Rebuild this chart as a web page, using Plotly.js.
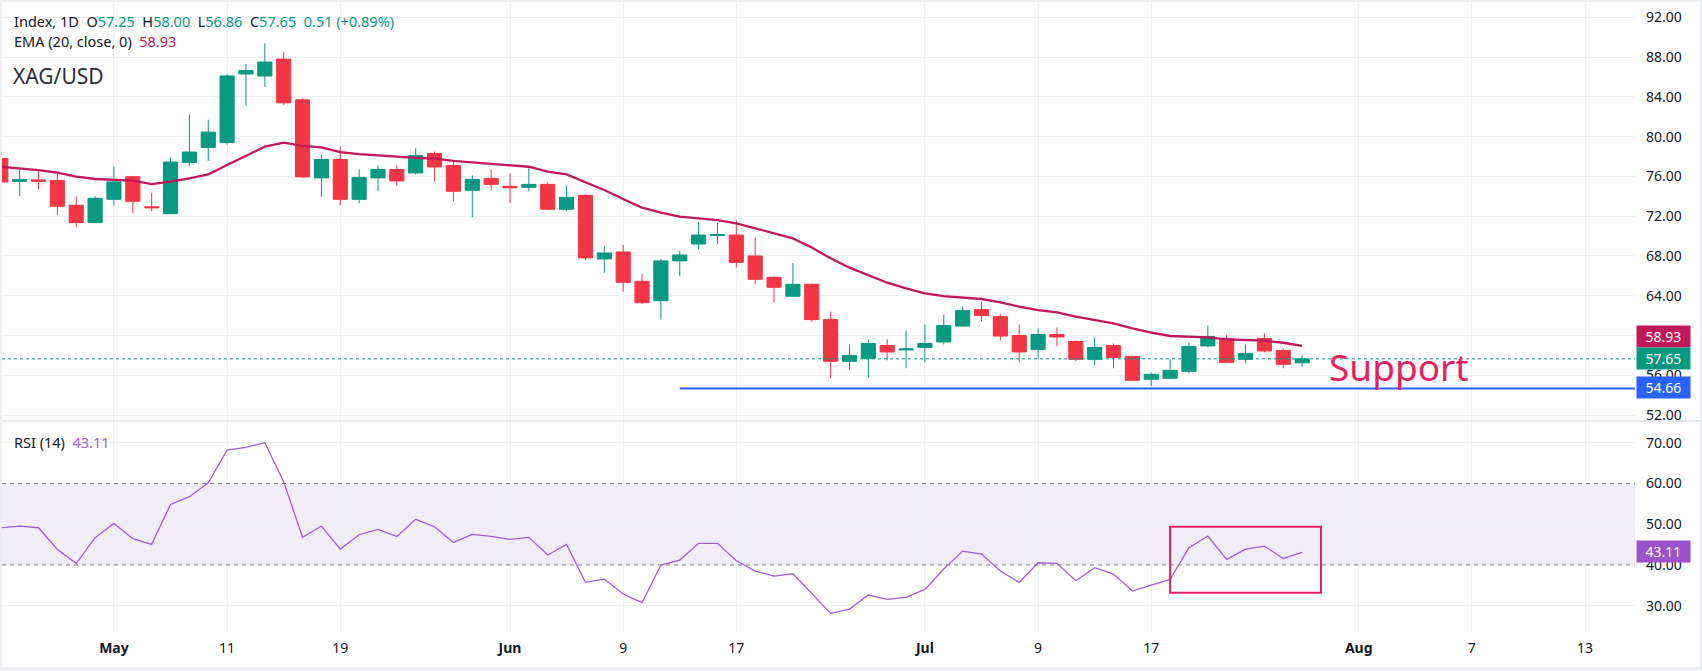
<!DOCTYPE html>
<html><head><meta charset="utf-8">
<script src="https://cdn.plot.ly/plotly-3.0.1.min.js"></script>
<style>
html,body{margin:0;padding:0;background:#eceef2;width:1702px;height:671px;overflow:hidden;}
#chart{position:absolute;left:2px;top:2px;width:1698px;height:665px;background:#fff;}
</style></head><body><div id="chart"></div>
<script>
// ---- data ----
const dates = [
 '2026-04-23','2026-04-24','2026-04-27','2026-04-28','2026-04-29','2026-04-30',
 '2026-05-01','2026-05-04','2026-05-05','2026-05-06','2026-05-07','2026-05-08','2026-05-11','2026-05-12','2026-05-13','2026-05-14','2026-05-15','2026-05-18','2026-05-19','2026-05-20','2026-05-21','2026-05-22','2026-05-25','2026-05-26','2026-05-27','2026-05-28','2026-05-29',
 '2026-06-01','2026-06-02','2026-06-03','2026-06-04','2026-06-05','2026-06-08','2026-06-09','2026-06-10','2026-06-11','2026-06-12','2026-06-15','2026-06-16','2026-06-17','2026-06-18','2026-06-19','2026-06-22','2026-06-23','2026-06-24','2026-06-25','2026-06-26','2026-06-29','2026-06-30',
 '2026-07-01','2026-07-02','2026-07-03','2026-07-06','2026-07-07','2026-07-08','2026-07-09','2026-07-10','2026-07-13','2026-07-14','2026-07-15','2026-07-16','2026-07-17','2026-07-20','2026-07-21','2026-07-22','2026-07-23','2026-07-24','2026-07-27','2026-07-28','2026-07-29'
];
const openP = [77.8,75.5,75.65,75.6,73.1,71.35,73.7,75.97,72.95,72.25,77.4,78.9,79.4,86.3,86.1,87.8,83.7,75.85,77.7,73.7,75.85,76.7,76.35,78.3,77.1,74.6,75.8,75.0,74.9,75.2,72.7,74.1,67.7,68.4,65.45,63.5,67.5,69.2,70.05,70.1,68.0,65.85,63.95,65.15,61.6,57.4,57.7,59.0,58.55,58.8,59.35,60.95,62.6,61.9,60.0,58.6,60.1,59.4,57.6,59.0,57.9,55.6,55.7,56.4,58.95,59.7,57.6,59.7,58.5,57.25];
const highP = [78.2,76.8,76.6,76.3,74.0,74.0,77.0,76.05,74.35,77.9,82.2,81.7,86.3,87.3,89.4,88.5,83.85,78.2,79.0,76.7,77.1,77.1,78.85,78.5,77.6,76.1,76.7,76.3,77.0,75.4,75.1,74.2,69.0,69.1,66.2,67.7,68.5,71.4,71.3,71.6,69.9,65.95,67.3,65.25,62.4,59.1,59.6,59.6,60.5,61.1,62.1,62.9,63.4,62.2,61.1,60.7,60.8,59.5,59.8,59.2,58.0,56.3,57.6,59.3,61.0,60.1,59.1,60.2,58.7,58.0];
const lowP = [75.2,74.0,74.7,72.1,70.9,71.3,73.05,72.3,72.5,72.2,77.05,77.55,79.2,83.1,85.0,83.2,75.85,73.95,73.1,73.3,74.5,75.05,76.2,75.5,73.5,71.9,74.6,73.3,74.5,72.6,72.5,67.6,66.3,64.4,63.2,61.6,65.95,68.7,69.2,66.85,65.15,63.3,63.9,61.4,55.7,56.5,55.8,57.5,56.7,57.3,59.1,60.9,61.45,59.5,57.3,57.7,58.9,57.4,57.0,56.7,55.4,54.9,55.6,56.2,58.8,57.2,57.2,58.3,56.7,56.86];
const closeP = [75.44,75.7,75.5,73.0,71.35,73.8,75.45,73.5,72.85,77.45,78.45,80.45,86.1,86.65,87.5,83.4,75.95,77.7,73.7,75.9,76.7,75.55,78.1,76.95,74.5,75.7,75.2,74.85,75.2,72.7,73.9,67.8,68.3,65.35,63.3,67.5,68.1,70.1,70.15,67.35,65.65,64.85,65.15,61.6,57.4,58.0,59.2,58.35,58.65,59.2,61.0,62.5,62.0,59.95,58.35,60.1,59.85,57.6,58.8,57.8,55.5,56.1,56.5,58.9,59.9,57.3,58.2,58.45,57.1,57.65];
const ema20 = [76.97,76.8,76.64,76.37,75.97,75.74,75.64,75.57,75.23,75.47,75.8,76.2,77.15,78.05,78.99,79.39,79.06,78.93,78.45,78.25,78.15,77.98,77.87,77.78,77.56,77.42,77.25,77.11,76.97,76.47,76.21,75.41,74.63,73.73,72.85,72.35,71.95,71.78,71.61,71.28,70.78,70.28,69.77,68.85,67.76,66.82,66.08,65.31,64.74,64.24,63.97,63.84,63.67,63.32,62.9,62.56,62.33,61.89,61.56,61.22,60.72,60.28,59.95,59.88,59.82,59.62,59.55,59.48,59.27,58.95];
const rsi14 = [49.14,49.55,49.14,43.82,40.4,46.7,50.2,46.44,45.05,54.87,56.75,60.18,68.2,68.85,70.0,60.43,46.77,49.55,43.9,47.42,48.73,47.01,51.19,49.39,45.54,47.5,47.0,46.28,46.77,42.43,45.05,35.73,36.54,32.86,30.74,39.98,41.2,45.3,45.3,41.04,38.5,37.28,37.85,33.03,28.12,29.18,32.62,31.55,32.04,34.0,39.0,43.4,42.68,38.5,35.73,40.55,40.39,36.14,39.33,37.77,33.6,35.07,36.46,44.23,47.1,41.37,43.9,44.64,41.6,43.11];
// x tick labels (bar index positions; last three fall in the empty future area)
const tickIndex = [6,12,18,27,33,39,49,55,61,72,78,84];
const tickText = ['<b>May</b>','11','19','<b>Jun</b>','9','17','<b>Jul</b>','9','17','<b>Aug</b>','7','13'];
const priceTicks = [52,56,60,64,68,72,76,80,84,88,92];
const rsiTicks = [30,40,50,60,70];
const emaLast = 58.93, rsiLast = 43.11;
const supportLevel = 54.66, supportStartIdx = 36;
const rsiBoxIdx = [62,70], rsiBoxVals = [33.2,49.4];
const rsiBand = [40,60];
const lastBar = {o:57.25,h:58.00,l:56.86,c:57.65,chg:0.51,pct:0.89};

// ---- chart ----
const idx = dates.map((d,i)=>i);
const GREEN='#089981', RED='#f23645', EMA_C='#c2185b', RSI_C='#a35ed4', PINK='#e91e63', BLUE='#2962ff', TXT='#131722', GRID='#f0f1f4';
const FONT='"Noto Sans", sans-serif';
const xRange=[0.064,86.65];
const split=0.3349;

const traces=[
 {type:'candlestick', x:idx, open:openP, high:highP, low:lowP, close:closeP, xaxis:'x', yaxis:'y',
  increasing:{line:{color:GREEN,width:1}, fillcolor:GREEN}, decreasing:{line:{color:RED,width:1}, fillcolor:RED},
  whiskerwidth:0, hoverinfo:'skip', showlegend:false},
 {type:'scatter', mode:'lines', x:idx, y:ema20, xaxis:'x', yaxis:'y', line:{color:EMA_C,width:2.3}, hoverinfo:'skip', showlegend:false},
 {type:'scatter', mode:'lines', x:idx, y:rsi14, xaxis:'x', yaxis:'y2', line:{color:RSI_C,width:1.3}, hoverinfo:'skip', showlegend:false}
];

const sp='\u00a0';
const v=(s,c)=>'<span style="color:'+c+'">'+s+'</span>';
const legend1='Index, 1D'+sp+sp+'O'+v(lastBar.o.toFixed(2),GREEN)+sp+sp+'H'+v(lastBar.h.toFixed(2),GREEN)+sp+sp+'L'+v(lastBar.l.toFixed(2),GREEN)+sp+sp+'C'+v(lastBar.c.toFixed(2),GREEN)+sp+sp+v(lastBar.chg.toFixed(2)+' (+'+lastBar.pct.toFixed(2)+'%)',GREEN);
const legend2='EMA (20, close, 0)'+sp+sp+v(emaLast.toFixed(2),EMA_C);
const legend3='RSI (14)'+sp+sp+v(rsiLast.toFixed(2),RSI_C);

function tag(val,yref,bg,yshift){
 return {xref:'paper',x:1,xanchor:'left',xshift:1,yref:yref,y:val,yanchor:'middle',yshift:yshift||0,
  text:val.toFixed(2),showarrow:false,bgcolor:bg,font:{color:'#fff',size:14,family:FONT},width:51,height:19,borderpad:1,align:'center'};
}

const layout={
 width:1698,height:665,margin:{l:0,r:65,t:0,b:35},paper_bgcolor:'#fff',plot_bgcolor:'#fff',
 font:{family:FONT,color:TXT,size:14},showlegend:false,hovermode:false,dragmode:false,
 boxgap:0.25,boxgroupgap:0,
 xaxis:{type:'linear',range:xRange,anchor:'y2',tickvals:tickIndex,ticktext:tickText,showgrid:true,gridcolor:GRID,gridwidth:1,
  zeroline:false,showline:false,ticks:'',ticklabelstandoff:6,tickfont:{size:14,color:TXT,family:FONT},rangeslider:{visible:false},fixedrange:true},
 yaxis:{domain:[split,1],range:[51.40,93.54],side:'right',anchor:'x',tickvals:priceTicks,tickformat:'.2f',showgrid:true,gridcolor:GRID,
  zeroline:false,showline:false,ticks:'',ticklabelstandoff:10,tickfont:{size:14,color:TXT,family:FONT},fixedrange:true},
 yaxis2:{domain:[0,split],range:[23.55,75.33],side:'right',anchor:'x',tickvals:rsiTicks,tickformat:'.2f',showgrid:true,gridcolor:GRID,
  zeroline:false,showline:false,ticks:'',ticklabelstandoff:10,tickfont:{size:14,color:TXT,family:FONT},fixedrange:true},
 shapes:[
  {type:'rect',xref:'paper',x0:0,x1:1,yref:'y2',y0:rsiBand[0],y1:rsiBand[1],fillcolor:'rgba(126,87,194,0.10)',line:{width:0},layer:'between'},
  {type:'line',xref:'paper',x0:0,x1:1,yref:'y2',y0:rsiBand[1],y1:rsiBand[1],line:{color:'#787b86',width:1,dash:'4px,4px'}},
  {type:'line',xref:'paper',x0:0,x1:1,yref:'y2',y0:rsiBand[0],y1:rsiBand[0],line:{color:'#787b86',width:1,dash:'4px,4px'}},
  {type:'line',xref:'paper',x0:0,x1:1.04,yref:'paper',y0:split,y1:split,line:{color:'#e0e3eb',width:1.5}},
  {type:'line',xref:'paper',x0:0,x1:1,yref:'y',y0:lastBar.c,y1:lastBar.c,line:{color:GREEN,width:1,dash:'dot'}},
  {type:'line',xref:'x',x0:supportStartIdx,x1:xRange[1],yref:'y',y0:supportLevel,y1:supportLevel,line:{color:BLUE,width:2}},
  {type:'rect',xref:'x',x0:rsiBoxIdx[0],x1:rsiBoxIdx[1],yref:'y2',y0:rsiBoxVals[0],y1:rsiBoxVals[1],line:{color:PINK,width:2},fillcolor:'rgba(0,0,0,0)'}
 ],
 annotations:[
  {xref:'paper',yref:'paper',x:0.0061,y:0.9705,xanchor:'left',yanchor:'middle',text:legend1,showarrow:false,font:{size:14.5,color:TXT,family:FONT}},
  {xref:'paper',yref:'paper',x:0.0061,y:0.9375,xanchor:'left',yanchor:'middle',text:legend2,showarrow:false,font:{size:14.5,color:TXT,family:FONT}},
  {xref:'paper',yref:'paper',x:0.0055,y:0.882,xanchor:'left',yanchor:'middle',text:'XAG/USD',showarrow:false,font:{size:21,color:'#2a2e39',family:FONT}},
  {xref:'paper',yref:'paper',x:0.0061,y:0.3015,xanchor:'left',yanchor:'middle',text:legend3,showarrow:false,font:{size:14.5,color:TXT,family:FONT}},
  {xref:'x',yref:'y',x:70.3,y:56.9,xanchor:'left',yanchor:'middle',text:'Support',showarrow:false,font:{size:37,color:PINK,family:FONT}},
  tag(emaLast,'y',EMA_C,10),
  tag(lastBar.c,'y',GREEN,0),
  tag(supportLevel,'y',BLUE,1),
  tag(rsiLast,'y2','#9c52c8',1)
 ]
};
Plotly.newPlot('chart',traces,layout,{displayModeBar:false,staticPlot:true});
</script></body></html>
